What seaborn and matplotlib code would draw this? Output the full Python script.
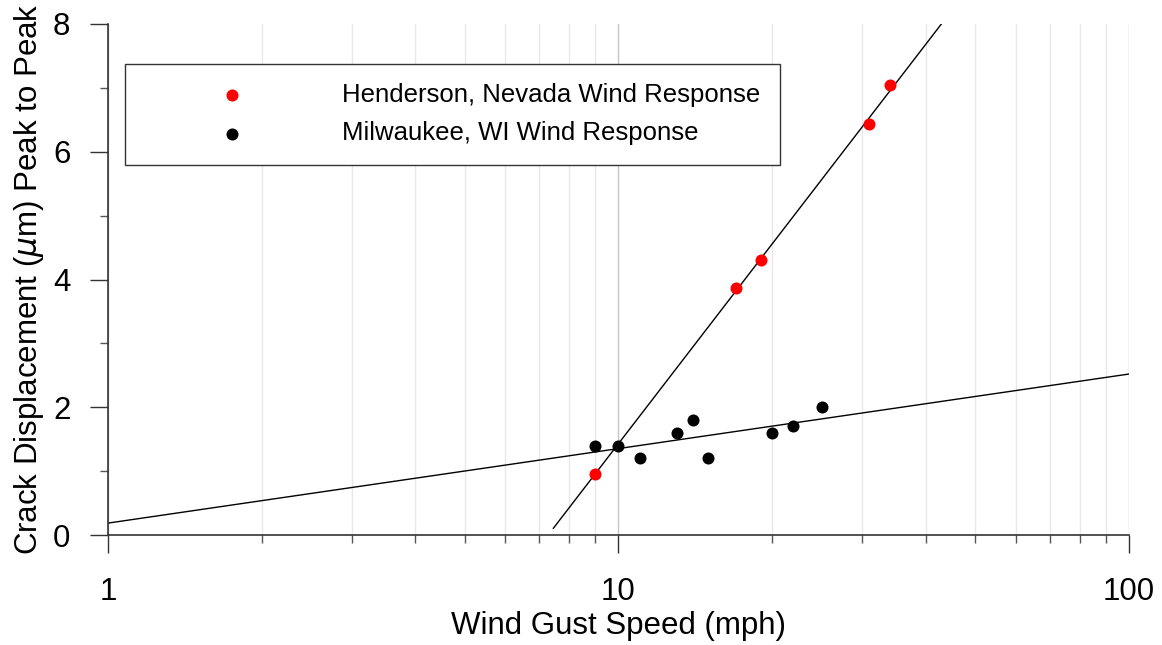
import numpy as np
import pandas as pd
import matplotlib
matplotlib.use("Agg")
import matplotlib.pyplot as plt
import seaborn as sns
from matplotlib.ticker import LogLocator, MultipleLocator, NullFormatter, FuncFormatter

# Data
henderson_speed = [9, 17, 19, 31, 34]
henderson_disp = [0.95, 3.87, 4.30, 6.43, 7.04]

milwaukee_speed = [9, 10, 11, 13, 14, 15, 20, 22, 25]
milwaukee_disp = [1.4, 1.4, 1.2, 1.6, 1.8, 1.2, 1.6, 1.7, 2.0]

x_ticks = [1, 10, 100]
y_ticks = [0, 2, 4, 6, 8]

sns.set_style("white")
plt.rcParams["font.family"] = ["Liberation Sans", "DejaVu Sans"]
plt.rcParams["mathtext.fontset"] = "dejavusans"
plt.rcParams["text.color"] = "black"
plt.rcParams["axes.labelcolor"] = "black"
plt.rcParams["xtick.labelcolor"] = "black"
plt.rcParams["ytick.labelcolor"] = "black"

hend_df = pd.DataFrame({"speed": henderson_speed, "disp": henderson_disp})
milw_df = pd.DataFrame({"speed": milwaukee_speed, "disp": milwaukee_disp})

fig = plt.figure(figsize=(11.62, 6.45), dpi=100)
ax = fig.add_axes([0.0929, 0.1705, 0.8787, 0.7923])
ax.set_xscale("log")
ax.set_xlim(1, 100)
ax.set_ylim(0, 8)

# least squares fits of displacement against log10(speed)
h_fit = np.polyfit(np.log10(hend_df["speed"]), hend_df["disp"], 1)
m_fit = np.polyfit(np.log10(milw_df["speed"]), milw_df["disp"], 1)

h_line_x = np.logspace(np.log10(7.45), 2, 50)
m_line_x = np.logspace(0, 2, 50)
sns.lineplot(x=h_line_x, y=np.polyval(h_fit, np.log10(h_line_x)), ax=ax,
             color="black", lw=1, zorder=2)
sns.lineplot(x=m_line_x, y=np.polyval(m_fit, np.log10(m_line_x)), ax=ax,
             color="black", lw=1, zorder=2)

sns.scatterplot(data=hend_df, x="speed", y="disp", ax=ax, color="#ff0000",
                s=75, linewidth=0, zorder=3, label="Henderson, Nevada Wind Response")
sns.scatterplot(data=milw_df, x="speed", y="disp", ax=ax, color="black",
                s=75, linewidth=0, zorder=3, label="Milwaukee, WI Wind Response")

# grid: vertical lines only
ax.set_axisbelow(True)
ax.xaxis.set_major_locator(LogLocator(base=10))
ax.xaxis.set_minor_locator(LogLocator(base=10, subs=np.arange(2, 10)))
ax.set_xticks(x_ticks)
ax.xaxis.set_major_formatter(FuncFormatter(lambda v, p: f"{v:g}"))
ax.xaxis.set_minor_formatter(NullFormatter())
ax.grid(which="minor", axis="x", color="#e8e8e8", lw=1)
ax.grid(which="major", axis="x", color="#c4c4c4", lw=1)
ax.grid(which="both", axis="y", visible=False)

ax.set_yticks(y_ticks)
ax.yaxis.set_minor_locator(MultipleLocator(1))

for side in ["top", "right"]:
    ax.spines[side].set_visible(False)
for side in ["left", "bottom"]:
    ax.spines[side].set_color("#333333")
    ax.spines[side].set_linewidth(1.2)

ax.tick_params(which="major", direction="out", length=13, width=1, color="#333333",
               labelsize=22.5, bottom=True, left=True)
ax.tick_params(which="minor", direction="out", length=6, width=1, color="#555555",
               bottom=True, left=True)
ax.tick_params(axis="x", which="major", pad=17)
ax.tick_params(axis="y", which="major", pad=14)

ax.set_xlabel("Wind Gust Speed (mph)", fontsize=22.5, labelpad=3)
ax.set_ylabel(r"Crack Displacement ($\mu$m) Peak to Peak", fontsize=22.5, labelpad=5)

leg = ax.legend(loc="upper left", bbox_to_anchor=(0.0166, 0.922), fontsize=18.5,
                frameon=True, fancybox=False, framealpha=1, edgecolor="#333333",
                borderpad=0.75, handlelength=6.85, handletextpad=0.85,
                labelspacing=0.55, borderaxespad=0, markerscale=1.0)
leg.get_frame().set_linewidth(1)

plt.savefig("out.png", dpi=100)
